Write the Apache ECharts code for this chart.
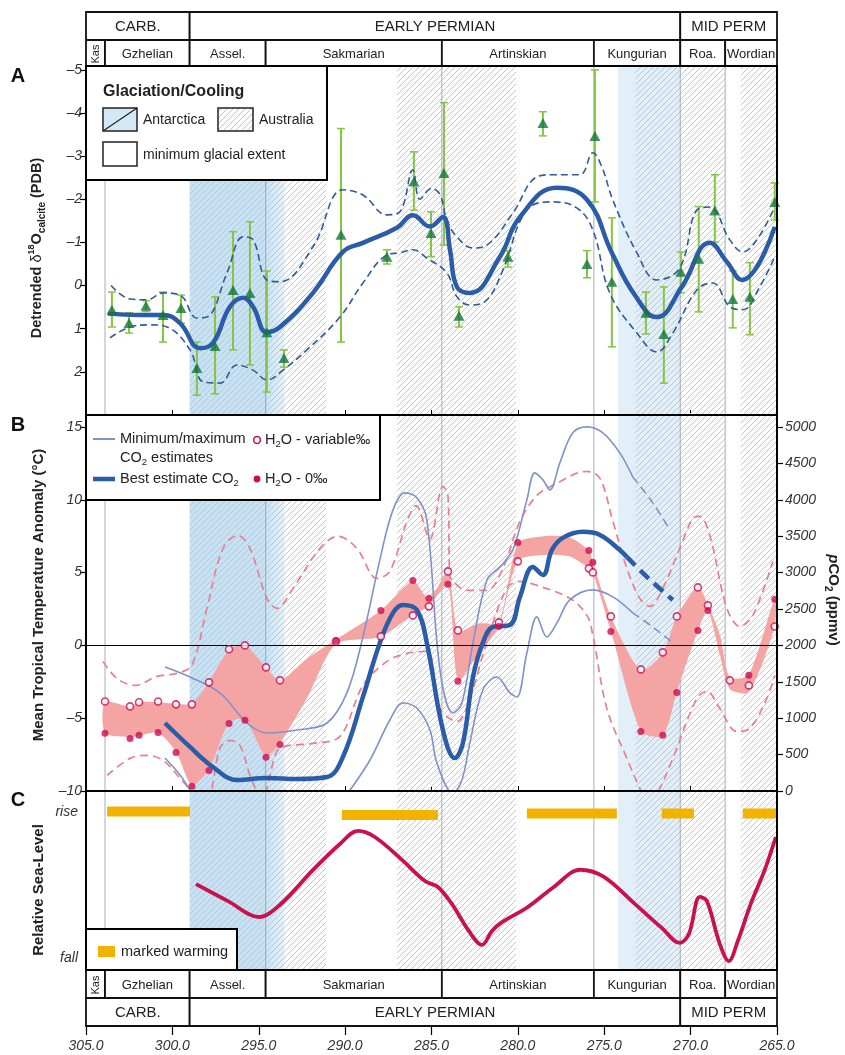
<!DOCTYPE html>
<html>
<head>
<meta charset="utf-8">
<script src="https://cdn.jsdelivr.net/npm/echarts@6/dist/echarts.min.js"></script>
<style>html,body{margin:0;padding:0;background:#fff}#chart{width:845px;height:1055px}</style>
</head>
<body>
<div id="chart"></div>
<script>
var FONT = '"Liberation Sans", Arial, sans-serif';

// geological time scale (Ma)
var eraNames = ['CARB.', 'EARLY PERMIAN', 'MID PERM'];
var eraStart = [305, 299.0, 270.6];
var eraEnd = [299.0, 270.6, 265];
var stageNames = ['Kas', 'Gzhelian', 'Assel.', 'Sakmarian', 'Artinskian', 'Kungurian', 'Roa.', 'Wordian'];
var stageStart = [305, 303.9, 299.0, 294.6, 284.4, 275.6, 270.6, 268.0];
var stageEnd = [303.9, 299.0, 294.6, 284.4, 275.6, 270.6, 268.0, 265];
var stageLines = [303.9, 294.6, 284.4, 275.6, 270.6, 268.0];

// glaciation intervals
var antarcticaStart = [299.0, 274.2];
var antarcticaEnd = [293.5, 270.6];
var australiaStart = [299.0, 287.0, 273.2, 267.1];
var australiaEnd = [291.1, 280.1, 268.0, 265.0];

// panel A: detrended d18O
var d18oAge = [303.5, 302.51, 301.53, 300.54, 299.5, 298.58, 297.53, 296.49, 295.51, 294.53, 293.54, 290.24, 287.58, 286.02, 285.03, 284.28, 283.41, 280.58, 278.55, 276.0, 275.54, 274.56, 272.59, 271.55, 270.57, 269.53, 268.6, 267.56, 266.57, 265.13];
var d18o = [0.56, 0.87, 0.47, 0.68, 0.52, 1.91, 1.40, 0.10, 0.17, 1.08, 1.68, -1.18, -0.67, -2.41, -1.22, -2.61, 0.70, -0.67, -3.77, -0.50, -3.47, -0.09, 0.63, 1.12, -0.32, -0.62, -1.74, 0.31, 0.26, -1.94];
var d18oLow = [0.15, 0.63, 0.35, 0.15, 0.22, 1.31, 0.26, -1.25, -1.48, -0.34, 1.49, -3.64, -0.83, -3.10, -1.71, -4.24, 0.49, -0.81, -4.03, -0.81, -5.0, -1.57, 0.15, 0.03, -0.78, -1.83, -2.57, -0.34, -0.53, -2.38];
var d18oHigh = [0.96, 1.10, 0.60, 1.31, 0.87, 2.54, 2.51, 1.49, 1.84, 2.47, 1.89, 1.31, -0.50, -1.75, -0.67, -0.94, 0.96, -0.43, -3.47, -0.18, -1.94, 1.42, 1.12, 2.26, 0.17, 0.61, -1.01, 0.98, 1.14, -1.52];

var smoothAge = [303.73, 301.88, 300.54, 299.56, 298.4, 297.65, 296.67, 295.91, 295.33, 294.53, 293.77, 291.86, 290.13, 288.97, 287.0, 286.08, 285.09, 284.34, 283.93, 283.53, 282.78, 281.04, 279.88, 277.74, 276.0, 274.56, 273.23, 271.96, 270.51, 268.89, 267.9, 267.04, 265.13];
var smoothD18o = [0.65, 0.68, 0.68, 0.87, 1.45, 1.33, 0.49, 0.28, 0.49, 1.08, 0.96, 0.17, -0.78, -0.99, -1.34, -1.63, -1.37, -1.59, -0.83, 0.03, 0.17, -0.67, -1.59, -2.27, -1.99, -0.76, 0.22, 0.73, 0.03, -0.99, -0.55, -0.13, -1.36];
var upperAge = [303.55, 302.45, 301.47, 300.54, 299.56, 298.58, 298.0, 296.84, 295.91, 295.33, 294.53, 293.77, 291.86, 290.13, 288.97, 287.58, 286.83, 286.08, 285.67, 285.0, 284.5, 284.1, 283.53, 282.6, 281.79, 280.29, 278.9, 277.97, 276.41, 275.66, 275.14, 274.5, 273.11, 271.96, 270.63, 269.64, 268.89, 267.73, 266.98, 266.17, 265.13];
var upperD18o = [0.0, 0.31, 0.33, 0.17, 0.22, 0.75, 0.73, -0.29, -1.13, -1.06, -0.13, -0.09, -0.90, -2.22, -2.10, -1.64, -1.71, -2.68, -2.0, -2.25, -2.1, -1.5, -1.13, -0.87, -0.94, -1.68, -2.52, -2.57, -2.57, -3.08, -2.75, -1.98, -0.76, -0.13, -0.41, -1.75, -1.82, -1.06, -0.78, -1.06, -1.82];
var lowerAge = [303.61, 302.45, 301.3, 300.31, 298.98, 298.23, 297.25, 296.26, 295.33, 294.53, 293.6, 292.21, 290.3, 288.97, 287.58, 286.83, 286.08, 285.27, 284.11, 283.53, 282.78, 281.79, 280.87, 279.48, 277.97, 276.59, 275.66, 274.68, 273.11, 271.96, 271.03, 269.64, 268.72, 267.73, 266.98, 266.0, 265.13];
var lowerD18o = [1.21, 0.96, 0.91, 0.96, 1.49, 2.23, 2.26, 1.84, 1.96, 2.19, 1.96, 1.49, 0.73, -0.06, -0.71, -0.76, -0.83, -0.64, -0.29, 0.26, 0.45, 0.33, -0.36, -1.75, -1.94, -1.80, -1.29, 0.17, 1.10, 1.54, 1.10, 0.10, -0.06, 0.49, 0.56, 0.03, -0.67];

// panel B: temperature anomaly (deg C) and pCO2 (ppmv)
var tempAge = [303.9, 302.45, 301.93, 300.83, 299.79, 298.87, 297.88, 296.72, 295.8, 294.58, 293.77, 290.53, 287.93, 286.08, 285.15, 284.05, 283.47, 281.1, 280.0, 275.89, 275.66, 274.62, 272.88, 271.61, 270.8, 269.58, 269.0, 267.73, 266.63, 265.13];
var tempVariable = [-3.85, -4.19, -3.91, -3.85, -4.05, -4.05, -2.54, -0.27, 0.0, -1.51, -2.40, 0.27, 0.62, 2.06, 2.68, 5.08, 1.03, 1.58, 5.77, 5.29, 5.01, 1.99, -1.65, -0.48, 1.99, 3.98, 2.75, -2.40, -2.75, 1.30];
var tempZero = [-6.04, -6.39, -6.18, -5.98, -7.35, -9.68, -8.59, -5.36, -5.15, -7.69, -6.80, 0.34, 2.40, 4.46, 3.23, 4.19, -2.47, 1.30, 7.07, 6.52, 5.70, 0.96, -5.91, -6.18, -3.23, 1.03, 2.40, null, -2.06, 3.16];

var bandAge = [303.9, 302.45, 301.93, 300.83, 299.79, 298.87, 297.88, 296.72, 295.8, 294.58, 293.77, 292.2, 290.53, 287.93, 286.08, 285.15, 284.05, 283.47, 282.3, 281.1, 280.0, 278.5, 277.0, 275.89, 275.66, 274.62, 272.88, 271.61, 270.8, 269.58, 269.0, 268.3, 267.73, 266.63, 265.13];
var bandLow = [-6.0, -6.3, -6.2, -6.0, -7.3, -9.6, -8.5, -5.3, -5.1, -7.6, -6.7, -3.6, 0.1, 0.6, 2.1, 2.7, 4.2, -2.4, -0.6, 1.3, 5.8, 6.2, 6.1, 5.3, 5.0, 1.0, -5.9, -6.2, -3.2, 1.0, 2.4, -0.7, -3.0, -3.2, 1.3];
var bandHigh = [-3.9, -4.2, -3.9, -3.9, -4.0, -4.0, -2.5, -0.3, 0.0, -1.5, -2.4, -0.9, 0.4, 2.4, 4.4, 3.2, 5.0, 1.0, 1.5, 1.6, 7.0, 7.5, 7.4, 6.5, 5.7, 2.0, -1.7, -0.5, 2.0, 4.0, 2.8, 0.7, -2.2, -2.0, 3.2];

var tempUpperAge = [304.02, 303.21, 302.16, 300.89, 299.73, 298.87, 298.0, 297.07, 296.2, 295.51, 294.53, 293.95, 293.02, 291.46, 290.42, 289.32, 288.16, 287.41, 286.42, 285.9, 285.1, 284.34, 284.05, 283.94, 283.76, 282.95, 281.79, 280.87, 279.88, 278.9, 277.97, 276.0, 275.25, 274.5, 273.69, 272.94, 272.36, 271.61, 270.63, 269.87, 269.47, 268.89, 267.9, 267.15, 266.4, 265.24];
var tempUpper = [-1.10, -2.27, -2.75, -2.13, -1.92, -1.37, 2.54, 6.66, 7.55, 6.66, 3.23, 2.54, 3.91, 6.66, 7.49, 6.66, 4.6, 5.08, 8.52, 9.6, 7.3, 10.92, 10.3, 4.81, 4.40, 3.78, 3.78, 5.29, 8.52, 10.3, 10.99, 11.95, 11.47, 8.52, 5.29, 3.23, 2.68, 3.91, 6.66, 8.72, 8.86, 7.55, 2.54, 1.30, 2.06, 5.77];
var tempLowerAge = [303.78, 302.45, 301.47, 300.54, 299.56, 298.81, 298.3, 297.8, 297.25, 296.67, 296.09, 295.51, 295.1, 294.8, 294.35, 293.77, 291.86, 290.3, 288.97, 287.58, 286.42, 285.27, 284.51, 283.53, 282.78, 281.79, 280.64, 279.88, 278.9, 276.99, 276.0, 275.66, 274.85, 273.69, 272.94, 272.4, 271.78, 271.03, 269.64, 269.06, 268.31, 267.33, 266.57, 265.59, 265.13];
var tempLower = [-8.93, -7.76, -7.55, -7.9, -9.13, -10.2, -11.5, -10.3, -7.07, -6.52, -6.87, -8.93, -10.1, -11.0, -8.93, -7.07, -6.73, -6.25, -2.75, -1.10, -0.55, -0.41, -4.33, -5.22, -3.64, 0.27, 3.91, 4.40, 4.12, 3.23, 2.06, 0.69, -4.33, -7.76, -9.82, -11.0, -9.82, -7.76, -3.64, -3.16, -4.33, -5.91, -5.7, -3.64, -2.06];

var co2MaxAge = [300.43, 298.98, 297.25, 295.68, 294.53, 292.79, 291.05, 289.9, 288.97, 287.99, 287.23, 286.54, 285.85, 285.27, 284.51, 283.76, 283.24, 282.6, 281.79, 281.04, 280.29, 279.48, 279.02, 278.55, 278.15, 277.57, 276.82, 276.0, 275.08, 274.1, 273.35];
var co2Max = [1704, 1566, 1347, 934, 797, 838, 934, 1347, 2116, 3174, 3861, 4095, 4026, 3724, 1663, 1072, 1209, 2034, 2899, 3078, 3311, 3998, 4369, 4273, 4136, 4507, 4919, 5001, 4919, 4644, 4314];
var co2MaxProjAge = [273.35, 272.19, 271.2];
var co2MaxProj = [4314, 3957, 3586];
var co2MinEarlyAge = [300.43, 299.56, 298.87];
var co2MinEarly = [453, 220, -30];
var co2MinAge = [289.9, 288.56, 287.41, 286.66, 285.85, 285.09, 284.69, 283.76, 283.24, 282.78, 282.03, 281.22, 280.46, 280.06, 279.48, 278.9, 278.32, 277.74, 276.99, 275.66, 274.5, 273.35];
var co2Min = [-50, 426, 975, 1209, 1140, 838, 385, -30, 151, 660, 1388, 1566, 1347, 1292, 1896, 2391, 2116, 2308, 2624, 2762, 2666, 2446];
var co2MinProjAge = [273.35, 272.19, 271.03];
var co2MinProj = [2446, 2253, 2034];
var co2BestAge = [300.43, 298.98, 297.65, 296.26, 294.53, 292.79, 291.05, 290.13, 288.97, 287.99, 287.23, 286.66, 285.85, 285.27, 284.34, 283.65, 283.18, 282.6, 282.03, 281.45, 280.46, 279.88, 279.13, 278.55, 278.03, 277.4, 276.24, 275.25, 274.1, 273.69];
var co2Best = [934, 605, 330, 151, 179, 165, 192, 467, 1292, 2034, 2446, 2556, 2487, 2034, 838, 453, 660, 1566, 2034, 2253, 2281, 2666, 3078, 2968, 3311, 3476, 3559, 3517, 3311, 3215];
var co2BestProjAge = [273.69, 272.53, 271.03];
var co2BestProj = [3215, 2940, 2624];

// panel C: relative sea level (0 = fall, 100 = rise)
var seaAge = [298.63, 296.78, 294.99, 293.72, 291.86, 290.3, 289.26, 288.28, 286.71, 285.38, 284.63, 283.82, 282.84, 282.08, 281.5, 280.98, 279.42, 277.92, 276.4, 275.02, 273.23, 271.67, 270.63, 270.1, 269.47, 269.06, 268.31, 267.79, 267.27, 266.52, 265.71, 265.07];
var seaLevel = [48.0, 38.5, 29.6, 36.9, 55.9, 70.4, 77.7, 74.3, 61.5, 49.7, 46.4, 36.9, 21.8, 14.0, 21.8, 26.3, 35.2, 46.4, 56.0, 52.0, 36.9, 23.5, 15.1, 20.1, 40.8, 38.5, 14.5, 5.0, 16.2, 36.9, 55.9, 74.3];
var warmStart = [303.78, 290.19, 279.48, 271.67, 266.98];
var warmEnd = [298.98, 284.63, 274.27, 269.81, 265.0];
var warmLevel = [88.5, 86.6, 87.5, 87.5, 87.5];

// tick labels
var d18oTicks = [-5, -4, -3, -2, -1, 0, 1, 2];
var tempTicks = [-10, -5, 0, 5, 10, 15];
var co2Ticks = [0, 500, 1000, 1500, 2000, 2500, 3000, 3500, 4000, 4500, 5000];
var seaTicks = [88.3, 6.7];

// hatch pattern for Australian glaciation
var hatch = document.createElement('canvas');
hatch.width = 6; hatch.height = 6;
var hc = hatch.getContext('2d');
hc.strokeStyle = '#9fc8e8';
hc.lineWidth = 0.9;
hc.beginPath();
hc.moveTo(0, 6); hc.lineTo(6, 0);
hc.moveTo(-1, 1); hc.lineTo(1, -1);
hc.moveTo(5, 7); hc.lineTo(7, 5);
hc.stroke();

function pairs(xs, ys) {
    var out = [];
    for (var i = 0; i < xs.length; i++) {
        if (ys[i] !== null) out.push([xs[i], ys[i]]);
    }
    return out;
}

var regionData = [];
antarcticaStart.forEach(function (s, i) { regionData.push([s, antarcticaEnd[i], i === 0 ? 0 : 1]); });
australiaStart.forEach(function (s, i) { regionData.push([s, australiaEnd[i], 2]); });
stageLines.forEach(function (s) { regionData.push([s, s, 3]); });

function regionItem(params, api) {
    var kind = api.value(2);
    var cs = params.coordSys;
    var x0 = api.coord([api.value(0), 0])[0];
    var x1 = api.coord([api.value(1), 0])[0];
    if (kind === 3) {
        return {type: 'line', shape: {x1: x0, y1: cs.y, x2: x0, y2: cs.y + cs.height},
            style: {stroke: '#8e9aab', lineWidth: 0.8}};
    }
    var fill;
    if (kind === 0) {
        fill = new echarts.graphic.LinearGradient(0, 0, 1, 0, [
            {offset: 0, color: '#c8e2f4'}, {offset: 0.78, color: '#c8e2f4'}, {offset: 1, color: '#e6f2fa'}]);
    } else if (kind === 1) {
        fill = '#e3eff8';
    } else {
        fill = {image: hatch, repeat: 'repeat'};
    }
    return {type: 'rect', shape: {x: Math.min(x0, x1), y: cs.y, width: Math.abs(x1 - x0), height: cs.height},
        style: {fill: fill}};
}

// pink band between the two H2O scenarios
function bandItem(params, api) {
    var pts = [];
    for (var i = 0; i < bandAge.length; i++) pts.push(api.coord([bandAge[i], bandHigh[i]]));
    for (var j = bandAge.length - 1; j >= 0; j--) pts.push(api.coord([bandAge[j], bandLow[j]]));
    return {type: 'polygon', shape: {points: pts, smooth: 0.25}, style: {fill: '#f5a4a4'}};
}

var topCells = [], topNames = [], botCells = [], botNames = [];
eraNames.forEach(function (n, i) {
    topCells.push([eraStart[i], eraEnd[i], 0]); topNames.push(n);
    botCells.push([eraStart[i], eraEnd[i], 0]); botNames.push(n);
});
stageNames.forEach(function (n, i) {
    topCells.push([stageStart[i], stageEnd[i], 1]); topNames.push(n);
    botCells.push([stageStart[i], stageEnd[i], 1]); botNames.push(n);
});

function cellRenderer(names, eraOnTop) {
    return function (params, api) {
        var cs = params.coordSys;
        var a = api.coord([api.value(0), 0])[0];
        var b = api.coord([api.value(1), 0])[0];
        var level = api.value(2);
        var upper = eraOnTop ? level === 0 : level === 1;
        var y0 = upper ? cs.y : cs.y + 28;
        var h = upper ? 28 : cs.height - 28;
        var name = names[params.dataIndex];
        var isKas = name === 'Kas';
        return {
            type: 'group',
            children: [
                {type: 'rect', shape: {x: Math.min(a, b), y: y0, width: Math.abs(b - a), height: h},
                    style: {fill: '#fff', stroke: '#111', lineWidth: 1.8}},
                {type: 'text', x: (a + b) / 2, y: y0 + h / 2 + 1, rotation: isKas ? Math.PI / 2 : 0,
                    style: {text: name, fontFamily: FONT, fontSize: level === 0 ? 15 : (isKas ? 11 : 13),
                        fill: '#222', align: 'center', verticalAlign: 'middle'}}
            ]
        };
    };
}

function errItem(params, api) {
    var top = api.coord([api.value(0), api.value(1)]);
    var bot = api.coord([api.value(0), api.value(2)]);
    var c = 4;
    return {type: 'group', children: [
        {type: 'line', shape: {x1: top[0], y1: top[1], x2: bot[0], y2: bot[1]}, style: {stroke: '#86c443', lineWidth: 2}},
        {type: 'line', shape: {x1: top[0] - c, y1: top[1], x2: top[0] + c, y2: top[1]}, style: {stroke: '#86c443', lineWidth: 1.5}},
        {type: 'line', shape: {x1: bot[0] - c, y1: bot[1], x2: bot[0] + c, y2: bot[1]}, style: {stroke: '#86c443', lineWidth: 1.5}}
    ]};
}

function warmItem(params, api) {
    var p0 = api.coord([api.value(0), api.value(2)]);
    var p1 = api.coord([api.value(1), api.value(2)]);
    return {type: 'rect', shape: {x: Math.min(p0[0], p1[0]), y: p0[1] - 5, width: Math.abs(p1[0] - p0[0]), height: 10},
        style: {fill: '#f1b300'}};
}

function curve(xi, yi, xs, ys, color, width, dash, smooth, z) {
    return {type: 'line', xAxisIndex: xi, yAxisIndex: yi, data: pairs(xs, ys), symbol: 'none',
        smooth: smooth, silent: true, z: z || 3,
        lineStyle: {color: color, width: width, type: dash || 'solid'}};
}

function minus(v) { return String(v).replace('-', '\u2013'); }

var labelStyle = {fontFamily: FONT, fontStyle: 'italic', fontSize: 14, color: '#333'};

function xAxisFor(i, ticksInside, labels) {
    var ax = {type: 'value', gridIndex: i, min: 265, max: 305, interval: 5, inverse: true, position: 'bottom',
        axisLine: {show: false, onZero: false}, splitLine: {show: false}, axisLabel: {show: false}, axisTick: {show: false}};
    if (ticksInside) ax.axisTick = {show: true, inside: true, length: 5, lineStyle: {color: '#000', width: 1}};
    if (labels) {
        ax.axisTick = {show: true, length: 9, lineStyle: {color: '#000', width: 1.2}};
        ax.axisLabel = echarts.util.extend({show: true, margin: 13, formatter: function (v) { return v.toFixed(1); }}, labelStyle);
    }
    return ax;
}

function yAxisFor(i, min, max, ticks, opts) {
    return {type: 'value', gridIndex: i, min: min, max: max, inverse: !!opts.inverse, position: opts.position || 'left',
        axisLine: {show: false, onZero: false}, splitLine: {show: false},
        axisTick: {show: !!ticks && !opts.noTick, length: 6, customValues: ticks || [], lineStyle: {color: '#000', width: 1.2}},
        axisLabel: echarts.util.extend({show: !!ticks, margin: opts.margin || 4, customValues: ticks || [],
            formatter: opts.formatter || minus}, labelStyle)};
}

var option = {
    animation: false,
    backgroundColor: '#fff',
    textStyle: {fontFamily: FONT},
    grid: [
        {left: 86, top: 12, width: 691, height: 54},
        {left: 86, top: 66, width: 691, height: 349},
        {left: 86, top: 415, width: 691, height: 376},
        {left: 86, top: 791, width: 691, height: 179},
        {left: 86, top: 970, width: 691, height: 56}
    ],
    xAxis: [
        xAxisFor(0, false, false),
        xAxisFor(1, true, false),
        xAxisFor(2, true, false),
        xAxisFor(3, false, false),
        xAxisFor(4, false, true)
    ],
    yAxis: [
        yAxisFor(0, 0, 54, null, {inverse: true}),
        yAxisFor(1, -5.09, 3.0, d18oTicks, {inverse: true}),
        yAxisFor(2, -10, 15.82, tempTicks, {}),
        yAxisFor(2, 0, 5164, co2Ticks, {position: 'right', margin: 8, formatter: function (v) { return String(v); }}),
        yAxisFor(3, 0, 100, seaTicks, {noTick: true, margin: 8, formatter: function (v) { return v > 50 ? 'rise' : 'fall'; }}),
        yAxisFor(4, 0, 56, null, {inverse: true})
    ],
    series: [
        // time scale boxes
        {type: 'custom', xAxisIndex: 0, yAxisIndex: 0, data: topCells, renderItem: cellRenderer(topNames, true), silent: true, z: 5},
        {type: 'custom', xAxisIndex: 4, yAxisIndex: 5, data: botCells, renderItem: cellRenderer(botNames, false), silent: true, z: 5},

        // panel A
        {type: 'custom', xAxisIndex: 1, yAxisIndex: 1, data: regionData, renderItem: regionItem, silent: true, z: 1},
        {type: 'custom', xAxisIndex: 1, yAxisIndex: 1, encode: {x: 0, y: [1, 2]},
            data: d18oAge.map(function (a, i) { return [a, d18oLow[i], d18oHigh[i]]; }),
            renderItem: errItem, silent: true, z: 2},
        curve(1, 1, upperAge, upperD18o, '#2f5b9c', 1.6, [7, 4], 0.4, 3),
        curve(1, 1, lowerAge, lowerD18o, '#2f5b9c', 1.6, [7, 4], 0.4, 3),
        curve(1, 1, smoothAge, smoothD18o, '#2b5ca9', 4.5, null, 0.45, 4),
        {type: 'scatter', xAxisIndex: 1, yAxisIndex: 1, data: pairs(d18oAge, d18o), symbol: 'triangle',
            symbolSize: [11, 10], itemStyle: {color: '#13783a'}, silent: true, z: 6},

        // panel B
        {type: 'custom', xAxisIndex: 2, yAxisIndex: 2, data: regionData, renderItem: regionItem, silent: true, z: 1},
        {type: 'custom', xAxisIndex: 2, yAxisIndex: 2, data: [[bandAge[0], bandLow[0]]], renderItem: bandItem, silent: true, z: 2},
        echarts.util.extend(curve(2, 2, tempUpperAge, tempUpper, '#e97f8e', 1.7, [8, 5], 0.35, 3), {
            markLine: {silent: true, symbol: ['none', 'none'], label: {show: false},
                lineStyle: {color: '#000', width: 1.2, type: 'solid'}, data: [{yAxis: 0}]}
        }),
        curve(2, 2, tempLowerAge, tempLower, '#e97f8e', 1.7, [8, 5], 0.35, 3),
        curve(2, 3, co2MaxAge, co2Max, '#8191ca', 1.6, null, 0.35, 4),
        curve(2, 3, co2MaxProjAge, co2MaxProj, '#8191ca', 1.6, [8, 5], 0.35, 4),
        curve(2, 3, co2MinEarlyAge, co2MinEarly, '#8191ca', 1.6, null, 0.35, 4),
        curve(2, 3, co2MinAge, co2Min, '#8191ca', 1.6, null, 0.35, 4),
        curve(2, 3, co2MinProjAge, co2MinProj, '#8191ca', 1.6, [8, 5], 0.35, 4),
        curve(2, 3, co2BestAge, co2Best, '#2a5caa', 4.5, null, 0.4, 5),
        curve(2, 3, co2BestProjAge, co2BestProj, '#2a5caa', 4.5, [12, 7], 0.4, 5),
        {type: 'scatter', xAxisIndex: 2, yAxisIndex: 2, data: pairs(tempAge, tempVariable), symbol: 'circle', symbolSize: 7,
            itemStyle: {color: '#fff', borderColor: '#d10a4f', borderWidth: 1.6}, silent: true, z: 6},
        {type: 'scatter', xAxisIndex: 2, yAxisIndex: 2, data: pairs(tempAge, tempZero), symbol: 'circle', symbolSize: 7,
            itemStyle: {color: '#d10a4f'}, silent: true, z: 7},

        // panel C
        {type: 'custom', xAxisIndex: 3, yAxisIndex: 4, data: regionData, renderItem: regionItem, silent: true, z: 1},
        {type: 'custom', xAxisIndex: 3, yAxisIndex: 4,
            data: warmStart.map(function (s, i) { return [s, warmEnd[i], warmLevel[i]]; }),
            renderItem: warmItem, silent: true, z: 3},
        curve(3, 4, seaAge, seaLevel, '#c9124d', 3.8, null, 0.35, 4)
    ],
    graphic: [
        // panel frames
        {type: 'rect', z: 100, shape: {x: 86, y: 66, width: 691, height: 349}, style: {fill: 'none', stroke: '#000', lineWidth: 2}},
        {type: 'rect', z: 100, shape: {x: 86, y: 415, width: 691, height: 376}, style: {fill: 'none', stroke: '#000', lineWidth: 2}},
        {type: 'rect', z: 100, shape: {x: 86, y: 791, width: 691, height: 179}, style: {fill: 'none', stroke: '#000', lineWidth: 2}},

        // panel letters
        {type: 'text', z: 100, x: 18, y: 76, style: {text: 'A', fontFamily: FONT, fontSize: 20, fontWeight: 'bold', fill: '#111', align: 'center', verticalAlign: 'middle'}},
        {type: 'text', z: 100, x: 18, y: 425, style: {text: 'B', fontFamily: FONT, fontSize: 20, fontWeight: 'bold', fill: '#111', align: 'center', verticalAlign: 'middle'}},
        {type: 'text', z: 100, x: 18, y: 800, style: {text: 'C', fontFamily: FONT, fontSize: 20, fontWeight: 'bold', fill: '#111', align: 'center', verticalAlign: 'middle'}},

        // axis titles
        {type: 'text', z: 100, x: 37, y: 248, rotation: Math.PI / 2, style: {
            text: '{b|Detrended }{g|\u03b4}{sup|18}{b|O}{sub|calcite}{b| (PDB)}',
            align: 'center', verticalAlign: 'middle',
            rich: {
                b: {fontFamily: FONT, fontSize: 14.5, fontWeight: 'bold', fill: '#222', lineHeight: 20, verticalAlign: 'middle'},
                g: {fontFamily: FONT, fontSize: 14.5, fill: '#222', lineHeight: 20, verticalAlign: 'middle'},
                sup: {fontFamily: FONT, fontSize: 9, fontWeight: 'bold', fill: '#222', verticalAlign: 'top'},
                sub: {fontFamily: FONT, fontSize: 10, fontWeight: 'bold', fill: '#222', verticalAlign: 'bottom'}
            }}},
        {type: 'text', z: 100, x: 39, y: 595, rotation: Math.PI / 2, style: {
            text: 'Mean Tropical Temperature Anomaly (\u00b0C)', fontFamily: FONT, fontSize: 15, fontWeight: 'bold',
            fill: '#222', align: 'center', verticalAlign: 'middle'}},
        {type: 'text', z: 100, x: 39, y: 890, rotation: Math.PI / 2, style: {
            text: 'Relative Sea-Level', fontFamily: FONT, fontSize: 15, fontWeight: 'bold',
            fill: '#222', align: 'center', verticalAlign: 'middle'}},
        {type: 'text', z: 100, x: 833, y: 600, rotation: -Math.PI / 2, style: {
            text: '{i|p}{b|CO}{s|2}{b| (ppmv)}', align: 'center', verticalAlign: 'middle',
            rich: {
                i: {fontFamily: FONT, fontSize: 15, fontWeight: 'bold', fontStyle: 'italic', fill: '#222', lineHeight: 20, verticalAlign: 'middle'},
                b: {fontFamily: FONT, fontSize: 15, fontWeight: 'bold', fill: '#222', lineHeight: 20, verticalAlign: 'middle'},
                s: {fontFamily: FONT, fontSize: 10, fontWeight: 'bold', fill: '#222', verticalAlign: 'bottom'}
            }}},

        // legend A
        {type: 'rect', z: 110, shape: {x: 86, y: 66, width: 241, height: 114}, style: {fill: '#fff', stroke: '#000', lineWidth: 2}},
        {type: 'text', z: 111, x: 103, y: 92, style: {text: 'Glaciation/Cooling', fontFamily: FONT, fontSize: 16, fontWeight: 'bold', fill: '#222', verticalAlign: 'middle'}},
        {type: 'rect', z: 111, shape: {x: 103, y: 108, width: 34, height: 23}, style: {fill: '#d3e8f6', stroke: '#222', lineWidth: 1.5}},
        {type: 'line', z: 112, shape: {x1: 103, y1: 131, x2: 137, y2: 108}, style: {stroke: '#222', lineWidth: 1.2}},
        {type: 'text', z: 111, x: 143, y: 120, style: {text: 'Antarctica', fontFamily: FONT, fontSize: 14, fill: '#222', verticalAlign: 'middle'}},
        {type: 'rect', z: 111, shape: {x: 218, y: 108, width: 35, height: 23}, style: {fill: {image: hatch, repeat: 'repeat'}, stroke: '#222', lineWidth: 1.5}},
        {type: 'text', z: 111, x: 259, y: 120, style: {text: 'Australia', fontFamily: FONT, fontSize: 14, fill: '#222', verticalAlign: 'middle'}},
        {type: 'rect', z: 111, shape: {x: 103, y: 142, width: 34, height: 24}, style: {fill: '#fff', stroke: '#222', lineWidth: 1.5}},
        {type: 'text', z: 111, x: 143, y: 155, style: {text: 'minimum glacial extent', fontFamily: FONT, fontSize: 14, fill: '#222', verticalAlign: 'middle'}},

        // legend B
        {type: 'rect', z: 110, shape: {x: 86, y: 415, width: 294, height: 85}, style: {fill: '#fff', stroke: '#000', lineWidth: 2}},
        {type: 'line', z: 111, shape: {x1: 93, y1: 439, x2: 115, y2: 439}, style: {stroke: '#8191ca', lineWidth: 2}},
        {type: 'text', z: 111, x: 120, y: 439, style: {text: 'Minimum/maximum', fontFamily: FONT, fontSize: 14.5, fill: '#222', verticalAlign: 'middle'}},
        {type: 'text', z: 111, x: 120, y: 458, style: {text: '{t|CO}{s|2}{t| estimates}', verticalAlign: 'middle',
            rich: {t: {fontFamily: FONT, fontSize: 14.5, fill: '#222', lineHeight: 18, verticalAlign: 'middle'}, s: {fontFamily: FONT, fontSize: 9.5, fill: '#222', verticalAlign: 'bottom'}}}},
        {type: 'line', z: 111, shape: {x1: 93, y1: 479, x2: 115, y2: 479}, style: {stroke: '#2a5caa', lineWidth: 4.5}},
        {type: 'text', z: 111, x: 120, y: 479, style: {text: '{t|Best estimate CO}{s|2}', verticalAlign: 'middle',
            rich: {t: {fontFamily: FONT, fontSize: 14.5, fill: '#222', lineHeight: 18, verticalAlign: 'middle'}, s: {fontFamily: FONT, fontSize: 9.5, fill: '#222', verticalAlign: 'bottom'}}}},
        {type: 'circle', z: 111, shape: {cx: 257, cy: 440, r: 3.4}, style: {fill: '#fff', stroke: '#d10a4f', lineWidth: 1.5}},
        {type: 'text', z: 111, x: 265, y: 440, style: {text: '{t|H}{s|2}{t|O - variable\u2030}', verticalAlign: 'middle',
            rich: {t: {fontFamily: FONT, fontSize: 14.5, fill: '#222', lineHeight: 18, verticalAlign: 'middle'}, s: {fontFamily: FONT, fontSize: 9.5, fill: '#222', verticalAlign: 'bottom'}}}},
        {type: 'circle', z: 111, shape: {cx: 257, cy: 479, r: 3.4}, style: {fill: '#d10a4f'}},
        {type: 'text', z: 111, x: 265, y: 479, style: {text: '{t|H}{s|2}{t|O - 0\u2030}', verticalAlign: 'middle',
            rich: {t: {fontFamily: FONT, fontSize: 14.5, fill: '#222', lineHeight: 18, verticalAlign: 'middle'}, s: {fontFamily: FONT, fontSize: 9.5, fill: '#222', verticalAlign: 'bottom'}}}},

        // legend C
        {type: 'rect', z: 110, shape: {x: 86, y: 929, width: 151, height: 41}, style: {fill: '#fff', stroke: '#000', lineWidth: 2}},
        {type: 'rect', z: 111, shape: {x: 98, y: 946, width: 17, height: 11}, style: {fill: '#f1b300'}},
        {type: 'text', z: 111, x: 121, y: 952, style: {text: 'marked warming', fontFamily: FONT, fontSize: 14.5, fill: '#222', verticalAlign: 'middle'}}
    ]
};

var chart = echarts.init(document.getElementById('chart'));
chart.setOption(option);
</script>
</body>
</html>
